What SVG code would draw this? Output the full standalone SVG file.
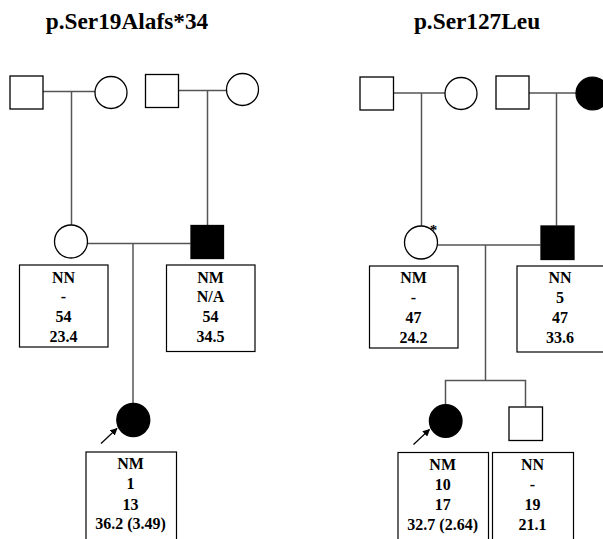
<svg xmlns="http://www.w3.org/2000/svg" width="603" height="539" viewBox="0 0 603 539">
<style>
.title{font-family:"Liberation Serif","Times New Roman",serif;font-weight:bold;font-size:23.3px;text-anchor:middle;fill:#000}
.lbl{font-family:"Liberation Serif","Times New Roman",serif;font-weight:bold;font-size:16px;text-anchor:middle;fill:#000}
.sym{fill:#fff;stroke:#000;stroke-width:1.3}
.aff{fill:#000;stroke:#000;stroke-width:1.3}
.box{fill:#fff;stroke:#000;stroke-width:1.2}
.con{fill:none;stroke:#555;stroke-width:1.5}
.arr{stroke:#000;stroke-width:1.2;fill:none}
</style>
<defs>
<marker id="ah" viewBox="0 0 10 10" refX="9" refY="5" markerWidth="6" markerHeight="6" orient="auto">
<path d="M0,0 L10,5 L0,10 z" fill="#000"/>
</marker>
</defs>
<rect width="603" height="539" fill="#fff"/>
<text class="title" x="127" y="29">p.Ser19Alafs*34</text>
<text class="title" x="477" y="29">p.Ser127Leu</text>

<g id="connectors">
<path class="con" d="M43,91.5 H95"/>
<path class="con" d="M71.5,91.5 V225"/>
<path class="con" d="M178.5,90.5 H227"/>
<path class="con" d="M207.5,90.5 V225"/>
<path class="con" d="M87.5,243.5 H190.5"/>
<path class="con" d="M133,243.5 V403"/>
<path class="arr" d="M101,443.5 L117,428.5" marker-end="url(#ah)"/>
<path class="con" d="M393.5,93 H445"/>
<path class="con" d="M421.5,93 V226"/>
<path class="con" d="M529,93 H576"/>
<path class="con" d="M556.5,93 V225.5"/>
<path class="con" d="M437.5,245 H540.5"/>
<path class="con" d="M485.5,245 V380.5"/>
<path class="con" d="M445.5,405 V380.5 H525.5 V406.5"/>
<path class="arr" d="M413.5,444.5 L429.5,429.5" marker-end="url(#ah)"/>
</g>

<g id="L_gf1"><rect class="sym" x="10" y="76" width="33" height="33"/></g>
<g id="L_gm1"><circle class="sym" cx="111" cy="92.5" r="16"/></g>
<g id="L_gf2"><rect class="sym" x="145.5" y="74.5" width="33" height="33"/></g>
<g id="L_gm2"><circle class="sym" cx="242.5" cy="89.5" r="16"/></g>
<g id="L_mother">
<circle class="sym" cx="71" cy="241.5" r="16.5"/>
<rect class="box" x="19.5" y="265" width="88.5" height="82"/>
<text class="lbl" x="63.5" y="282.5">NN</text>
<text class="lbl" x="63.5" y="302">-</text>
<text class="lbl" x="63.5" y="322">54</text>
<text class="lbl" x="63.5" y="342">23.4</text>
</g>
<g id="L_father">
<rect class="aff" x="191" y="225.5" width="32.5" height="33"/>
<rect class="box" x="166.5" y="265" width="88.5" height="86.5"/>
<text class="lbl" x="210.5" y="282.5">NM</text>
<text class="lbl" x="210.5" y="302">N/A</text>
<text class="lbl" x="210.5" y="322">54</text>
<text class="lbl" x="210.5" y="342">34.5</text>
</g>
<g id="L_proband">
<circle class="aff" cx="133.3" cy="420" r="16.5"/>
<rect class="box" x="86" y="452" width="90.5" height="90"/>
<text class="lbl" x="130.5" y="469">NM</text>
<text class="lbl" x="130.5" y="489">1</text>
<text class="lbl" x="130.5" y="509.5">13</text>
<text class="lbl" x="130.5" y="529">36.2 (3.49)</text>
</g>

<g id="R_gf1"><rect class="sym" x="360" y="77" width="33.5" height="33"/></g>
<g id="R_gm1"><circle class="sym" cx="461" cy="93.5" r="16"/></g>
<g id="R_gf2"><rect class="sym" x="496" y="76" width="33" height="33"/></g>
<g id="R_gm2"><ellipse class="aff" cx="592.5" cy="93.5" rx="16.5" ry="16.3"/></g>
<g id="R_mother">
<circle class="sym" cx="421" cy="242.5" r="16.5"/>
<text x="433.5" y="235" font-family="Liberation Serif, serif" font-weight="bold" font-size="15" text-anchor="middle" fill="#000">*</text>
<rect class="box" x="369.5" y="266" width="88.5" height="82"/>
<text class="lbl" x="413.5" y="283">NM</text>
<text class="lbl" x="413.5" y="303">-</text>
<text class="lbl" x="413.5" y="323">47</text>
<text class="lbl" x="413.5" y="343">24.2</text>
</g>
<g id="R_father">
<rect class="aff" x="541" y="226" width="33" height="33.5"/>
<rect class="box" x="517" y="266" width="90" height="86"/>
<text class="lbl" x="560" y="283">NN</text>
<text class="lbl" x="560" y="303">5</text>
<text class="lbl" x="560" y="323">47</text>
<text class="lbl" x="560" y="343">33.6</text>
</g>
<g id="R_proband">
<circle class="aff" cx="445.7" cy="421" r="16.3"/>
<rect class="box" x="398" y="452.5" width="90.5" height="90"/>
<text class="lbl" x="442.7" y="469.5">NM</text>
<text class="lbl" x="442.7" y="489.5">10</text>
<text class="lbl" x="442.7" y="510">17</text>
<text class="lbl" x="442.7" y="529.5">32.7 (2.64)</text>
</g>
<g id="R_brother">
<rect class="sym" x="509" y="407" width="33.5" height="33.5"/>
<rect class="box" x="492.5" y="452.5" width="81" height="90"/>
<text class="lbl" x="532.5" y="469.5">NN</text>
<text class="lbl" x="532.5" y="489.5">-</text>
<text class="lbl" x="532.5" y="510">19</text>
<text class="lbl" x="532.5" y="529.5">21.1</text>
</g>
</svg>
